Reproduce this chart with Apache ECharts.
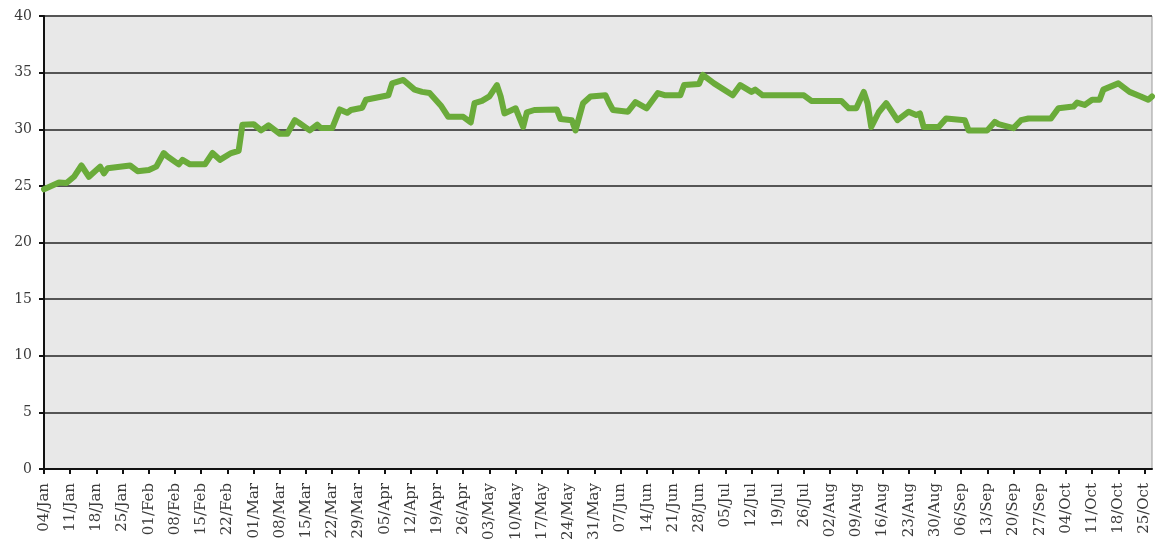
<!DOCTYPE html>
<html>
<head>
<meta charset="utf-8">
<script src="https://cdn.jsdelivr.net/npm/echarts@6/dist/echarts.min.js"></script>
<style>
html,body{margin:0;padding:0;background:#fff;}
#c{width:1157px;height:547px;}
</style>
</head>
<body>
<div id="c"></div>
<script>
// Tick labels: weekly Mondays from 04/Jan
var tickLabels = ['04/Jan','11/Jan','18/Jan','25/Jan','01/Feb','08/Feb','15/Feb','22/Feb','01/Mar','08/Mar','15/Mar','22/Mar','29/Mar','05/Apr','12/Apr','19/Apr','26/Apr','03/May','10/May','17/May','24/May','31/May','07/Jun','14/Jun','21/Jun','28/Jun','05/Jul','12/Jul','19/Jul','26/Jul','02/Aug','09/Aug','16/Aug','23/Aug','30/Aug','06/Sep','13/Sep','20/Sep','27/Sep','04/Oct','11/Oct','18/Oct','25/Oct'];
// Day offsets (days since 04/Jan) of the series points
var days = [0,4,6,8,10,12,15,16,17,23,25,28,30,32,33,36,37,39,43,45,47,50,52,53,56,58,60,63,65,67,68,71,73,74,77,79,81,82,85,86,92,93,96,99,101,103,106,108,112,114,115,117,119,121,122,123,126,128,129,131,137,138,141,142,144,146,150,151,152,156,158,161,164,166,170,171,175,176,179,184,186,189,190,192,203,205,213,215,217,219,220,221,223,225,228,231,233,234,235,239,241,246,247,252,254,255,259,261,263,269,271,275,276,278,280,282,283,287,290,293,295,296];
var values = [24.7,25.3,25.25,25.8,26.8,25.8,26.7,26.1,26.55,26.8,26.3,26.4,26.7,27.9,27.6,26.9,27.3,26.9,26.9,27.9,27.3,27.9,28.1,30.4,30.45,29.9,30.35,29.6,29.6,30.8,30.6,29.9,30.4,30.1,30.1,31.75,31.45,31.7,31.9,32.6,33.0,34.05,34.35,33.5,33.3,33.2,32.1,31.1,31.1,30.6,32.3,32.5,32.9,33.9,32.9,31.4,31.85,30.2,31.5,31.7,31.75,30.9,30.8,29.9,32.3,32.9,33.0,32.3,31.7,31.55,32.4,31.85,33.2,33.0,33.0,33.9,34.0,34.8,34.05,33.0,33.9,33.3,33.5,33.0,33.0,32.5,32.5,31.85,31.85,33.3,32.3,30.2,31.5,32.3,30.8,31.55,31.25,31.4,30.2,30.2,30.95,30.8,29.9,29.9,30.65,30.45,30.1,30.8,30.95,30.95,31.85,32.0,32.35,32.15,32.6,32.6,33.5,34.05,33.3,32.9,32.6,32.9];
var yTicks = [0,5,10,15,20,25,30,35,40];

var seriesData = days.map(function(d,i){return [d, values[i]];});
var chart = echarts.init(document.getElementById('c'));
var font = '"DejaVu Serif", "Liberation Serif", serif';
chart.setOption({
  animation:false,
  backgroundColor:'#ffffff',
  grid:{left:44,top:16,right:5,bottom:78,show:true,backgroundColor:'#e8e8e8',borderColor:'#9a9a9a',borderWidth:1},
  xAxis:{
    type:'value',min:0,max:296,interval:7,
    axisLine:{show:true,lineStyle:{color:'#111',width:2}},
    axisTick:{show:true,length:5,lineStyle:{color:'#111',width:2}},
    splitLine:{show:false},
    axisLabel:{rotate:90,fontFamily:font,fontSize:15,color:'#3a3a3a',margin:14,showMaxLabel:false,
      formatter:function(v){ if(v%7!==0) return ''; var i=v/7; return tickLabels[i]||''; }}
  },
  yAxis:{
    type:'value',min:yTicks[0],max:yTicks[yTicks.length-1],interval:5,
    axisLine:{show:true,lineStyle:{color:'#111',width:2}},
    axisTick:{show:true,length:5,lineStyle:{color:'#111',width:2}},
    splitLine:{show:true,lineStyle:{color:'#555',width:2}},
    axisLabel:{fontFamily:font,fontSize:14,color:'#3a3a3a',margin:12}
  },
  series:[{
    type:'line',data:seriesData,showSymbol:false,symbol:'none',
    lineStyle:{color:'#6aab3a',width:6,join:'round',cap:'round'},
    z:5
  }]
});
</script>
</body>
</html>
